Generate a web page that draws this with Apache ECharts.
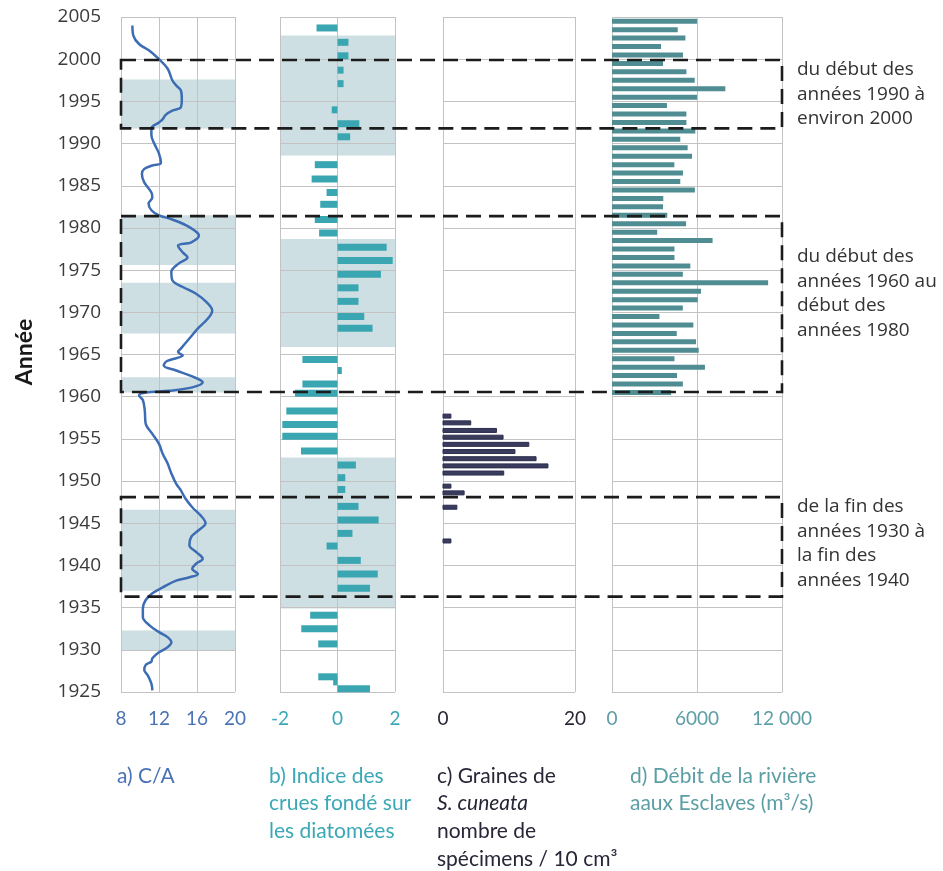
<!DOCTYPE html>
<html>
<head>
<meta charset="utf-8">
<script src="https://cdn.jsdelivr.net/npm/echarts@6/dist/echarts.min.js"></script>
<style>
  html, body { margin: 0; padding: 0; background: #ffffff; }
  #chart { width: 943px; height: 871px; }
</style>
</head>
<body>
<div id="chart"></div>
<script>
// ---- Year axis shared by all four panels ----
const yearMin = 1925;
const yearMax = 2005;

// ---- a) C/A ratio (sediment core), year vs value ----
const caYears = [2004.0, 2002.8, 2001.8, 2001.0, 2000.0, 1998.9, 1997.5, 1996.9, 1996.3, 1995.3,
  1994.3, 1993.9, 1993.4, 1992.9, 1992.5, 1991.8, 1991.0, 1990.0, 1988.8, 1987.7,
  1987.4, 1987.0, 1986.4, 1985.4, 1984.2, 1983.6, 1982.9, 1982.1, 1981.5, 1981.0,
  1980.1, 1979.1, 1978.3, 1977.9, 1977.1, 1976.5, 1975.8, 1974.8, 1973.8, 1973.0,
  1972.2, 1971.2, 1970.2, 1969.2, 1968.1, 1966.9, 1965.7, 1965.3, 1964.9, 1964.2,
  1963.7, 1963.1, 1962.4, 1961.7, 1961.1, 1960.7, 1960.5, 1960.15, 1959.6, 1958.4,
  1956.8, 1955.6, 1954.4, 1953.2, 1952.1, 1950.9, 1949.7, 1948.9, 1947.9, 1946.9,
  1945.9, 1945.0, 1944.2, 1943.4, 1942.4, 1941.6, 1940.8, 1940.2, 1939.6, 1939.0,
  1938.6, 1938.2, 1937.4, 1936.7, 1935.9, 1934.9, 1933.9, 1932.9, 1932.1, 1931.5,
  1930.9, 1930.3, 1929.7, 1929.0, 1928.6, 1928.2, 1927.6, 1927.0, 1926.0, 1925.2];
const caRatio = [9.2, 9.3, 9.9, 11.0, 12.0, 12.9, 13.4, 13.8, 14.3, 14.4,
  14.3, 13.4, 12.7, 12.4, 12.0, 11.2, 11.2, 11.5, 12.0, 12.2,
  11.3, 10.45, 10.2, 10.45, 11.2, 11.3, 10.9, 11.2, 12.0, 13.4,
  15.2, 16.2, 15.4, 14.0, 14.5, 15.0, 14.1, 13.3, 13.4, 14.5,
  15.9, 17.0, 17.6, 17.1, 16.1, 15.2, 14.3, 14.0, 14.5, 12.8,
  12.5, 13.8, 15.5, 16.6, 15.5, 13.1, 10.6, 9.9, 10.3, 10.5,
  10.6, 11.3, 12.0, 12.4, 12.9, 13.3, 13.8, 14.3, 14.8, 15.5,
  16.4, 16.9, 16.2, 15.4, 15.2, 15.9, 16.6, 15.9, 15.5, 16.1,
  15.2, 13.8, 12.4, 11.3, 10.6, 10.3, 10.3, 11.0, 12.0, 12.9,
  13.3, 12.9, 12.0, 11.3, 11.2, 10.6, 10.45, 10.8, 11.2, 11.3];
// high C/A intervals [from, to]
const caBands = [[1991.8, 1997.6], [1975.6, 1981.5], [1967.5, 1973.5],
  [1960.5, 1962.3], [1937.0, 1946.6], [1929.9, 1932.3]];

// ---- b) diatom-based flood index ----
const diatomYears = [2003.7, 2002.0, 2000.4, 1998.7, 1997.1, 1994.0, 1992.35, 1990.8, 1987.5, 1985.8,
  1984.2, 1982.8, 1981.0, 1979.4, 1977.7, 1976.15, 1974.5, 1972.9, 1971.3, 1969.5,
  1968.1, 1964.4, 1963.1, 1961.5, 1960.4, 1958.3, 1956.7, 1955.3, 1953.55, 1951.9,
  1950.4, 1949.0, 1947.0, 1945.4, 1943.8, 1942.3, 1940.6, 1939.0, 1937.3, 1934.1,
  1932.5, 1930.7, 1926.8, 1926.2, 1925.4];
const diatomIndex = [-0.73, 0.38, 0.38, 0.21, 0.21, -0.2, 0.76, 0.44, -0.79, -0.9,
  -0.38, -0.6, -0.79, -0.64, 1.71, 1.92, 1.51, 0.73, 0.73, 0.93,
  1.22, -1.22, 0.15, -1.22, -1.48, -1.78, -1.92, -1.92, -1.27, 0.64,
  0.27, 0.27, 0.73, 1.43, 0.52, -0.38, 0.81, 1.4, 1.13, -0.95,
  -1.26, -0.67, -0.67, -0.15, 1.13];
const floodBands = [[1988.6, 2002.8], [1965.9, 1978.7], [1934.9, 1952.8]];

// ---- c) S. cuneata seeds per 10 cm3 ----
const seedYears = [1957.7, 1956.9, 1956.0, 1955.2, 1954.35, 1953.5, 1952.65, 1951.8, 1950.95,
  1949.4, 1948.6, 1946.9, 1942.9];
const seedCounts = [1.2, 4.2, 8.1, 9.1, 13.0, 10.9, 14.1, 15.9, 9.2,
  1.2, 3.2, 2.1, 1.2];

// ---- d) Slave River discharge (m3/s), one value per year ----
const dischargeYears = [2004, 2003, 2002, 2001, 2000, 1999, 1998, 1997, 1996, 1995,
  1994, 1993, 1992, 1991, 1990, 1989, 1988, 1987, 1986, 1985,
  1984, 1983, 1982, 1981, 1980, 1979, 1978, 1977, 1976, 1975,
  1974, 1973, 1972, 1971, 1970, 1969, 1968, 1967, 1966, 1965,
  1964, 1963, 1962, 1961, 1960];
const discharge = [6000, 4640, 5180, 3460, 5010, 3600, 5250, 5840, 8000, 6000,
  3880, 5250, 5250, 5880, 4820, 5340, 5650, 4400, 5010, 4820,
  5850, 3620, 3600, 3900, 5230, 3190, 7100, 4410, 4410, 5530,
  5000, 11020, 6280, 6050, 5000, 3350, 5740, 4570, 5930, 6120,
  4410, 6560, 4590, 5000, 4170];

// ---- highlighted periods (dashed frames) and their captions ----
const periods = [[1991.8, 1999.9], [1960.55, 1981.4], [1936.3, 1948.1]];
const periodCaptions = [
  'du début des\nannées 1990 à\nenviron 2000',
  'du début des\nannées 1960 au\ndébut des\nannées 1980',
  'de la fin des\nannées 1930 à\nla fin des\nannées 1940'
];

// ---- styling ----
const gridColor = '#c3c3c3';
const shadeColor = '#cddfe2';
const lineBlue = '#3c6cb4';
const tealBar = '#3aa6b2';
const navyBar = '#2c2d4f';
const dischargeBar = '#4f8d93';
const calFont = 'Lato, "Open Sans", sans-serif';
const panelTop = 17, panelHeight = 675;

const chart = echarts.init(document.getElementById('chart'), null, { renderer: 'canvas' });

function yAxisFor(gridIndex, showLabels) {
  return {
    type: 'value', gridIndex, min: yearMin, max: yearMax, interval: 5,
    axisLine: { show: false }, axisTick: { show: false },
    axisLabel: showLabels ? {
      show: true, margin: 20, color: '#3b3b3b',
      fontFamily: '"Open Sans", sans-serif', fontSize: 19,
      formatter: v => String(v)
    } : { show: false },
    splitLine: { show: true, lineStyle: { color: gridColor, width: 1 } },
    z: 1
  };
}
function xAxisFor(gridIndex, min, max, interval, color, formatter) {
  return {
    type: 'value', gridIndex, min, max, interval, position: 'bottom',
    axisLine: { show: false }, axisTick: { show: false },
    axisLabel: {
      show: true, margin: 17, color, fontFamily: calFont, fontSize: 19,
      formatter: formatter || (v => String(v))
    },
    splitLine: { show: true, lineStyle: { color: gridColor, width: 1 } },
    z: 1
  };
}

// shaded intervals spanning the whole panel width
function bandSeries(axisIndex, bands, xRef) {
  return {
    type: 'custom', xAxisIndex: axisIndex, yAxisIndex: axisIndex, z: 0, silent: true,
    data: bands, encode: { y: [0, 1] },
    renderItem(params, api) {
      const cs = params.coordSys;
      const yTop = api.coord([xRef, api.value(1)])[1];
      const yBot = api.coord([xRef, api.value(0)])[1];
      return { type: 'rect', shape: { x: cs.x, y: yTop, width: cs.width, height: yBot - yTop },
               style: { fill: shadeColor } };
    }
  };
}

// horizontal bars from zero at a given year
function hbarSeries(axisIndex, values, years, thickness, fill, stroke) {
  return {
    type: 'custom', xAxisIndex: axisIndex, yAxisIndex: axisIndex, z: 2, silent: true,
    data: values.map((v, i) => [v, years[i]]), encode: { x: 0, y: 1 },
    renderItem(params, api) {
      const p0 = api.coord([0, api.value(1)]);
      const p1 = api.coord([api.value(0), api.value(1)]);
      return {
        type: 'rect',
        shape: { x: Math.min(p0[0], p1[0]), y: p0[1] - thickness / 2,
                 width: Math.abs(p1[0] - p0[0]), height: thickness },
        style: stroke ? { fill, stroke, lineWidth: 1 } : { fill }
      };
    }
  };
}

const titleStyle = (text, color) => ({
  text, font: '21px ' + calFont, fill: color, lineHeight: 27.7, verticalAlign: 'top'
});
const captionStyle = text => ({
  text, font: '19px "Open Sans", sans-serif', fill: '#333333', lineHeight: 24.5, verticalAlign: 'top'
});

const option = {
  backgroundColor: '#ffffff',
  animation: false,
  grid: [
    { left: 121, top: panelTop, width: 114, height: panelHeight },
    { left: 280, top: panelTop, width: 115, height: panelHeight },
    { left: 443, top: panelTop, width: 132, height: panelHeight },
    { left: 612, top: panelTop, width: 170, height: panelHeight },
    { left: 121, top: panelTop, width: 661, height: panelHeight }
  ],
  xAxis: [
    xAxisFor(0, 8, 20, 4, '#4a72b5'),
    xAxisFor(1, -2, 2, 2, '#3aa8b6'),
    xAxisFor(2, 0, 20, 20, '#262637'),
    xAxisFor(3, 0, 12000, 6000, '#5c9ea5', v => (v === 12000 ? '12 000' : String(v))),
    { type: 'value', gridIndex: 4, min: 0, max: 1, show: false }
  ],
  yAxis: [
    yAxisFor(0, true),
    yAxisFor(1, false),
    yAxisFor(2, false),
    yAxisFor(3, false),
    { type: 'value', gridIndex: 4, min: yearMin, max: yearMax, show: false }
  ],
  series: [
    bandSeries(0, caBands, 8),
    {
      type: 'line', xAxisIndex: 0, yAxisIndex: 0, z: 3,
      data: caRatio.map((v, i) => [v, caYears[i]]),
      smooth: 0.35, showSymbol: false, silent: true,
      lineStyle: { color: lineBlue, width: 2.5 }
    },
    bandSeries(1, floodBands, 0),
    hbarSeries(1, diatomIndex, diatomYears, 7, tealBar),
    hbarSeries(2, seedCounts, seedYears, 4, '#3a3c5e', navyBar),
    // discharge bars are centred on mid-year
    hbarSeries(3, discharge, dischargeYears.map(y => y + 0.5), 5, dischargeBar),
    {
      type: 'custom', xAxisIndex: 4, yAxisIndex: 4, z: 10, silent: true, clip: false,
      data: periods, encode: { y: [0, 1] },
      renderItem(params, api) {
        const tl = api.coord([0, api.value(1)]);
        const br = api.coord([1, api.value(0)]);
        return {
          type: 'rect',
          shape: { x: tl[0], y: tl[1], width: br[0] - tl[0], height: br[1] - tl[1] },
          style: { fill: 'none', stroke: '#1c1c1c', lineWidth: 2.6, lineDash: [15, 8] }
        };
      }
    }
  ],
  graphic: [
    {
      type: 'text', x: 25, y: 352, rotation: Math.PI / 2,
      style: { text: 'Année', font: 'bold 23px ' + calFont, fill: '#1a1a1a',
               align: 'center', verticalAlign: 'middle' }
    },
    { type: 'text', x: 797, y: 57.5, style: captionStyle(periodCaptions[0]) },
    { type: 'text', x: 797, y: 244.5, style: captionStyle(periodCaptions[1]) },
    { type: 'text', x: 797, y: 494.5, style: captionStyle(periodCaptions[2]) },
    { type: 'text', x: 117, y: 762, style: titleStyle('a) C/A', '#4a72b5') },
    { type: 'text', x: 269, y: 762, style: titleStyle('b) Indice des\ncrues fondé sur\nles diatomées', '#3aa8b6') },
    {
      type: 'text', x: 437, y: 762,
      style: Object.assign(titleStyle('c) Graines de\n{i|S. cuneata}\nnombre de\nspécimens / 10 cm³', '#262637'), {
        rich: { i: { fontStyle: 'italic', fontFamily: calFont, fontSize: 21, fill: '#262637', lineHeight: 27.7 } }
      })
    },
    { type: 'text', x: 630, y: 762, style: titleStyle('d) Débit de la rivière\naaux Esclaves (m³/s)', '#5c9ea5') }
  ]
};

chart.setOption(option);
</script>
</body>
</html>
